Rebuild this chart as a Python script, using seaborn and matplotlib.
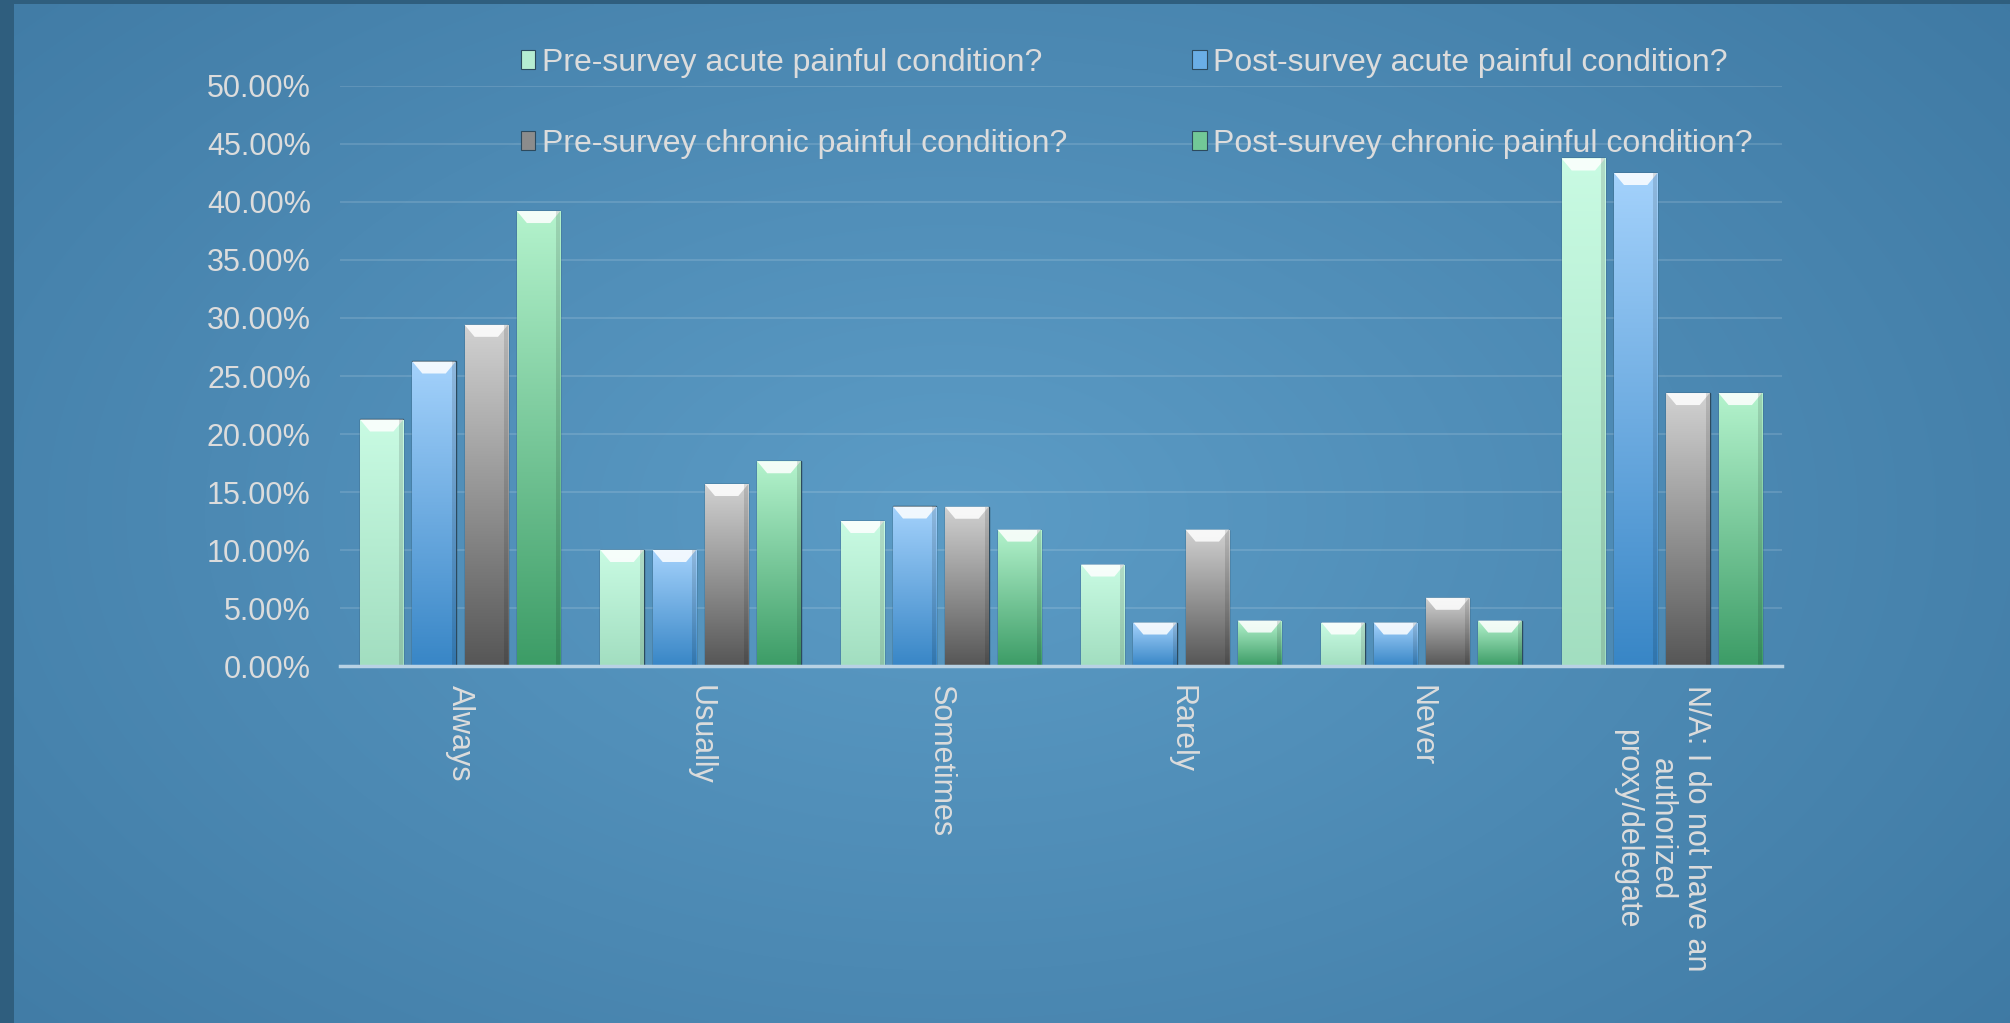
import numpy as np
import pandas as pd
import matplotlib
matplotlib.use("Agg")
import matplotlib.pyplot as plt
from matplotlib.colors import LinearSegmentedColormap, to_rgb
from matplotlib.patches import Polygon, Rectangle
from matplotlib.ticker import FuncFormatter
import seaborn as sns

# categories and series (percent of respondents)
responses = ["Always", "Usually", "Sometimes", "Rarely", "Never",
             "N/A: I do not have an\nauthorized\nproxy/delegate"]
series = ["Pre-survey acute painful condition?",
          "Post-survey acute painful condition?",
          "Pre-survey chronic painful condition?",
          "Post-survey chronic painful condition?"]
pre_acute = [21.25, 10.00, 12.50, 8.75, 3.75, 43.75]
post_acute = [26.25, 10.00, 13.75, 3.75, 3.75, 42.50]
pre_chronic = [29.41, 15.69, 13.73, 11.76, 5.88, 23.53]
post_chronic = [39.22, 17.65, 11.76, 3.92, 3.92, 23.53]

# top / bottom shades for each series
top_cols = ["#c9fbe3", "#a4d2fc", "#d2d2d2", "#b4f3cd"]
bot_cols = ["#a2dec0", "#3886c6", "#565656", "#3c9c66"]
mid_cols = ["#b6edd2", "#6aaee6", "#8c8c8c", "#72c897"]

rows = []
for name, vals in zip(series, [pre_acute, post_acute, pre_chronic, post_chronic]):
    for r, v in zip(responses, vals):
        rows.append((r, name, v))
df = pd.DataFrame(rows, columns=["response", "series", "pct"])

sns.set_theme(style="white")
plt.rcParams["font.family"] = ["Liberation Sans", "DejaVu Sans"]
txt_col = "#dcdcdc"

fig = plt.figure(figsize=(20.10, 10.23), dpi=100, facecolor="#2f5e7e")

# background panel with soft radial gradient
bg = fig.add_axes([14 / 2010, 0, 1 - 14 / 2010, 1 - 4 / 1023], zorder=-10)
gy, gx = np.mgrid[0:1:300j, 0:1:600j]
r = np.sqrt(((gx - 0.47) / 0.75) ** 2 + ((gy - 0.5) / 0.9) ** 2)
r = np.clip(r, 0, 1)
edge = np.array(to_rgb("#3c76a0"))
center = np.array(to_rgb("#5c9cc6"))
img = center[None, None, :] * (1 - r[..., None]) + edge[None, None, :] * r[..., None]
bg.imshow(img, aspect="auto", extent=[0, 1, 0, 1], interpolation="bilinear")
bg.set_axis_off()

ax = fig.add_axes([340 / 2010, 1 - 666 / 1023, 1442 / 2010, 580 / 1023])
ax.patch.set_alpha(0)

sns.barplot(data=df, x="response", y="pct", hue="series", hue_order=series,
            order=responses, palette=mid_cols, width=0.87, gap=0.17,
            legend=False, ax=ax, zorder=3)

ax.set_ylim(0, 50)
ax.set_xlim(-0.5, len(responses) - 0.5)
ax.set_yticks(np.arange(0, 50.1, 5))
ax.yaxis.set_major_formatter(FuncFormatter(lambda v, p: f"{v:.2f}%"))
ax.grid(axis="y", color="#ffffff", alpha=0.13, lw=1.5, zorder=0)
ax.grid(axis="x", visible=False)
for s in ["top", "right", "left"]:
    ax.spines[s].set_visible(False)
ax.spines["bottom"].set_color("#b8d2e4")
ax.spines["bottom"].set_linewidth(2.5)
ax.spines["bottom"].set_zorder(6)
ax.set_xlabel("")
ax.set_ylabel("")
ax.tick_params(axis="y", length=0, pad=21, labelsize=22, labelcolor=txt_col)
ax.tick_params(axis="x", length=0, pad=14, labelsize=22, labelcolor=txt_col)
for lab in ax.get_xticklabels():
    lab.set_rotation(-90)
    lab.set_ha("center")
    lab.set_va("top")

# gradient fill + bevelled top on each bar
px_y = 50 / 580.0
px_x = (len(responses)) / 1442.0
for i, cont in enumerate(ax.containers):
    cmap = LinearSegmentedColormap.from_list(f"g{i}", [bot_cols[i], top_cols[i]])
    grad = np.linspace(0, 1, 256).reshape(-1, 1)
    for bar in cont:
        x0, w, h = bar.get_x(), bar.get_width(), bar.get_height()
        bar.set_edgecolor("#2c4a5e")
        bar.set_linewidth(1.0)
        im = ax.imshow(grad, cmap=cmap, origin="lower", aspect="auto",
                       extent=[x0, x0 + w, 0, h], zorder=3.5)
        im.set_clip_path(bar)
        d = 12 * px_y
        ins = 10 * px_x
        bev = Polygon([(x0, h), (x0 + w, h), (x0 + w - ins, h - d), (x0 + ins, h - d)],
                      closed=True, facecolor="white", alpha=0.85, lw=0, zorder=4)
        ax.add_patch(bev)
        side = Rectangle((x0 + w - 4 * px_x, 0), 4 * px_x, h, facecolor="black",
                         alpha=0.12, lw=0, zorder=4)
        ax.add_patch(side)
ax.set_xlim(-0.5, len(responses) - 0.5)
ax.set_ylim(0, 50)

# legend in row-major order (matplotlib fills columns first)
handles = [Rectangle((0, 0), 1, 1, facecolor=c, edgecolor="#2c4a5e", lw=0.8) for c in mid_cols]
order = [0, 2, 1, 3]
fig.legend([handles[k] for k in order], [series[k] for k in order], ncol=2,
           loc="upper left", bbox_to_anchor=(521 / 2010, 1 - 48 / 1023),
           frameon=False, fontsize=23, labelcolor=txt_col,
           handlelength=0.45, handleheight=0.55, handletextpad=0.2,
           columnspacing=3.92, labelspacing=1.6, borderpad=0, borderaxespad=0)

fig.savefig("out.png", dpi=100, facecolor=fig.get_facecolor())
